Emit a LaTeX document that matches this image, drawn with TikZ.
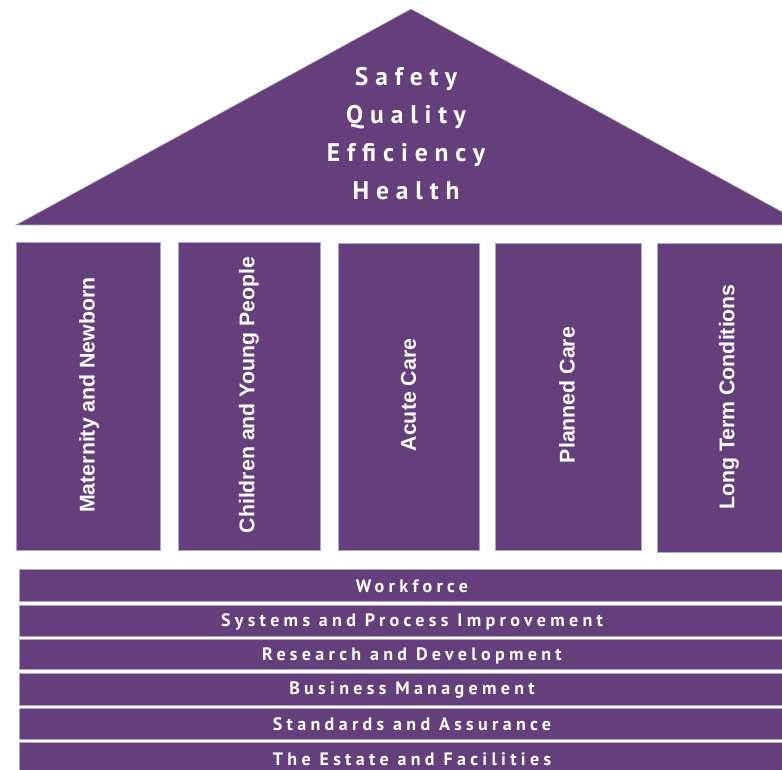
\documentclass[tikz,border=0pt]{standalone}
\usepackage{fontspec}
\setmainfont{Liberation Sans}
\newfontfamily\rooffont[LetterSpace=27]{PT Sans Bold}
\newfontfamily\barfont[LetterSpace=24]{PT Sans Bold}
\newfontfamily\colfont{Liberation Sans Bold}
\definecolor{hpurple}{HTML}{653F7B}
\definecolor{hedge}{HTML}{B3A5C2}
\tikzset{
  part/.style={fill=hpurple, draw=hedge, line width=0.6pt},
  rooftext/.style={text=white, font=\rooffont\fontsize{25.5}{26}\selectfont, anchor=base},
  coltext/.style={text=white, font=\colfont\fontsize{21.3}{22}\selectfont, rotate=90},
  bartext/.style={text=white, font=\barfont\fontsize{18}{18}\selectfont},
}
\begin{document}
\begin{tikzpicture}[x=1pt,y=-1pt]
\useasboundingbox (0,0) rectangle (782,770);
\clip (0,0) rectangle (782,770);
% roof
\path[part] (16,225) -- (411,9) -- (806,225) -- cycle;
\node[rooftext] (t1) at (406,86) {Safety};
\node[rooftext] (t2) at (406,124) {Quality};
\node[rooftext] (t3) at (406,162) {Efficiency};
\node[rooftext] (t4) at (406,200) {Health};
% columns
\path[part] (16,242) rectangle (160,550);
\path[part] (178,242) rectangle (320,550);
\path[part] (338,243) rectangle (479,550);
\path[part] (495,243) rectangle (641,550);
\path[part] (657,243) rectangle (790,552);
\node[coltext] (c1) at (89,395) {Maternity and Newborn};
\node[coltext] (c2) at (249,395) {Children and Young People};
\node[coltext] (c3) at (408.5,395) {Acute Care};
\node[coltext] (c4) at (567,395) {Planned Care};
\node[coltext] (c5) at (729,397) {Long Term Conditions};
% bars
\path[part] (19,569) rectangle (790,601);
\path[part] (19,605) rectangle (790,636);
\path[part] (19,639) rectangle (790,669);
\path[part] (19,673) rectangle (790,705);
\path[part] (19,708) rectangle (790,739);
\path[part] (19,742) rectangle (790,775);
\node[bartext] (b1) at (412,586) {Workforce};
\node[bartext] (b2) at (412,621.5) {Systems and Process Improvement};
\node[bartext] (b3) at (412,655.5) {Research and Development};
\node[bartext] (b4) at (412,690) {Business Management};
\node[bartext] (b5) at (412,724.5) {Standards and Assurance};
\node[bartext] (b6) at (412,759) {The Estate and Facilities};
\end{tikzpicture}
\end{document}
